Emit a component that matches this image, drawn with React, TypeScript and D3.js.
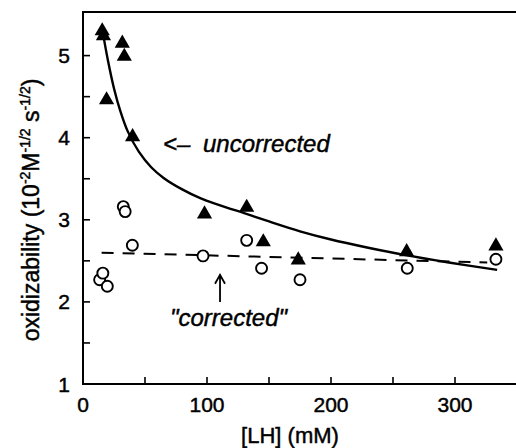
import React from "react";
import * as d3 from "d3";

const W = 516;
const H = 448;

// Filled triangles: "uncorrected"
const uncorrX = [15.5, 16.5, 19, 31.7, 33.3, 40, 98, 132, 145.4, 173.6, 261, 333];
const uncorrY = [5.30, 5.24, 4.46, 5.15, 4.99, 4.01, 3.07, 3.15, 2.73, 2.51, 2.61, 2.68];

// Open circles: "corrected"
const corrX = [13.4, 16, 19.6, 32.5, 34, 39.8, 96.8, 132, 144, 175, 261.5, 333];
const corrY = [2.27, 2.35, 2.19, 3.16, 3.10, 2.69, 2.56, 2.75, 2.41, 2.27, 2.41, 2.52];

// Solid fitted curve
const fitX = [16, 20, 25, 30, 36, 45, 55, 65, 80, 95, 110, 130, 150, 175, 200, 230, 260, 295, 334];
const fitY = [5.28, 4.95, 4.60, 4.33, 4.08, 3.83, 3.64, 3.51, 3.37, 3.26, 3.18, 3.08, 2.98, 2.86, 2.76, 2.66, 2.57, 2.48, 2.39];

// Dashed line
const dashX = [15, 326];
const dashY = [2.60, 2.48];

const xTicksMajor = [0, 100, 200, 300];
const xTicksMinor = [50, 150, 250];
const yTicksMajor = [1, 2, 3, 4, 5];
const yTicksMinor = [1.5, 2.5, 3.5, 4.5];

export default function App() {
  const x = d3.scaleLinear().domain([0, 300]).range([83, 455]);
  const y = d3.scaleLinear().domain([1, 5]).range([384, 55.6]);
  const xRight = W;
  const yTop = 12;

  const line = d3
    .line<[number, number]>()
    .x((d) => x(d[0]))
    .y((d) => y(d[1]))
    .curve(d3.curveCatmullRom.alpha(0.5));

  const fitPts = fitX.map((v, i) => [v, fitY[i]] as [number, number]);
  const dashPts = dashX.map((v, i) => [v, dashY[i]] as [number, number]);

  const tri = d3.symbol().type(d3.symbolTriangle).size(100)() as string;

  const font = "'Liberation Sans', Arial, Helvetica, sans-serif";
  const ts = { stroke: "#000", strokeWidth: 0.45 };

  const arrowX = x(110.5);
  const arrowTop = y(2.33);
  const arrowBot = y(2.0);

  return (
    <svg
      width={W}
      height={H}
      style={{ position: "absolute", left: 0, top: 0, background: "#fff" }}
      fontFamily={font}
    >
      <rect x={0} y={0} width={W} height={H} fill="#fff" />
      {/* frame */}
      <line x1={x(0)} x2={x(0)} y1={yTop} y2={y(1)} stroke="#000" strokeWidth={2} />
      <line x1={x(0) - 1} x2={xRight} y1={y(1)} y2={y(1)} stroke="#000" strokeWidth={2} />
      <line x1={x(0) - 1} x2={xRight} y1={yTop} y2={yTop} stroke="#000" strokeWidth={2} />

      {/* y ticks */}
      {yTicksMajor.concat(yTicksMinor).map((t) => (
        <line key={"yt" + t} x1={x(0)} x2={x(0) + 7} y1={y(t)} y2={y(t)} stroke="#000" strokeWidth={1.6} />
      ))}
      {yTicksMajor.map((t) => (
        <text key={"yl" + t} x={70} y={y(t)} dy="0.36em" textAnchor="end" fontSize={21} {...ts}>
          {t}
        </text>
      ))}

      {/* x ticks */}
      {xTicksMajor.concat(xTicksMinor).map((t) => (
        <line key={"xt" + t} x1={x(t)} x2={x(t)} y1={y(1)} y2={y(1) - 7} stroke="#000" strokeWidth={1.6} />
      ))}
      {xTicksMajor.map((t) => (
        <text key={"xl" + t} x={x(t)} y={412} textAnchor="middle" fontSize={21} {...ts}>
          {t}
        </text>
      ))}

      {/* axis titles */}
      <text x={290} y={443} textAnchor="middle" fontSize={22} {...ts}>
        [LH] (mM)
      </text>
      <text transform="translate(39,210) rotate(-90)" textAnchor="middle" fontSize={23} {...ts}>
        oxidizability (10
        <tspan dy={-9} fontSize={14}>-2</tspan>
        <tspan dy={9}>M</tspan>
        <tspan dy={-9} fontSize={14}>-1/2</tspan>
        <tspan dy={9}> s</tspan>
        <tspan dy={-9} fontSize={14}>-1/2</tspan>
        <tspan dy={9}>)</tspan>
      </text>

      {/* curves */}
      <path d={line(fitPts) as string} fill="none" stroke="#000" strokeWidth={2.4} />
      <path d={line(dashPts) as string} fill="none" stroke="#000" strokeWidth={2} strokeDasharray="12,9" />

      {/* circles */}
      {corrX.map((v, i) => (
        <circle key={"c" + i} cx={x(v)} cy={y(corrY[i])} r={5.5} fill="#fff" stroke="#000" strokeWidth={1.9} />
      ))}
      {/* triangles */}
      {uncorrX.map((v, i) => (
        <path key={"t" + i} d={tri} transform={`translate(${x(v)},${y(uncorrY[i])})`} fill="#000" />
      ))}

      {/* annotations */}
      <text x={163} y={152} fontSize={24} fontStyle="italic" {...ts}>
        &lt;–
      </text>
      <text x={203} y={152} fontSize={24} fontStyle="italic" {...ts}>
        uncorrected
      </text>
      <path
        d={`M${arrowX},${arrowBot} L${arrowX},${arrowTop} M${arrowX - 5},${arrowTop + 9} L${arrowX},${arrowTop} L${arrowX + 5},${arrowTop + 9}`}
        fill="none"
        stroke="#000"
        strokeWidth={1.8}
      />
      <text x={170} y={326} fontSize={24} fontStyle="italic" {...ts}>
        "corrected"
      </text>
    </svg>
  );
}
